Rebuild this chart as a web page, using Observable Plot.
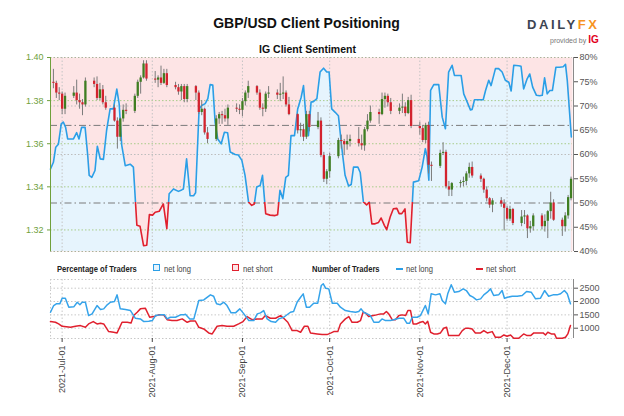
<!DOCTYPE html>
<html><head><meta charset="utf-8">
<script src="https://cdn.jsdelivr.net/npm/d3@7"></script>
<script src="https://cdn.jsdelivr.net/npm/@observablehq/plot@0.6"></script>
<style>
body{margin:0;background:#fff;}
#wrap{position:relative;width:624px;height:416px;overflow:hidden;background:#fff;font-family:"Liberation Sans",Arial,sans-serif;}
.abs{position:absolute;white-space:nowrap;line-height:1;}
.narrow{font-family:"Liberation Sans",Arial,sans-serif;transform:scaleX(0.8);transform-origin:0 50%;}
</style></head><body>
<div id="wrap">
  <svg width="0" height="0" style="position:absolute"><defs>
    <linearGradient id="sentGrad" gradientUnits="userSpaceOnUse" x1="0" x2="0" y1="0" y2="256">
      <stop id="s1" offset="0.79" stop-color="#2b9ee6"></stop>
      <stop id="s2" offset="0.79" stop-color="#e0202e"></stop>
    </linearGradient></defs></svg>
  <div id="main" class="abs" style="left:0;top:0"></div>
  <div id="bottom" class="abs" style="left:0;top:270px"></div>
  <div class="abs" style="left:0;width:613px;top:16px;text-align:center;font-weight:bold;font-size:14px;color:#111">GBP/USD Client Positioning</div>
  <div class="abs" style="left:0;width:615px;top:44px;text-align:center;font-weight:bold;font-size:10.5px;color:#111">IG Client Sentiment</div>
  <div class="abs" style="left:527px;top:18px;font-weight:bold;font-size:13px;letter-spacing:2.6px;color:#3d4552">DAILY<span style="color:#f7931e">FX</span></div>
  <div class="abs" style="left:550px;top:35px;font-size:7px;color:#777">provided by <span style="color:#e2001a;font-weight:bold;font-size:10px">IG</span></div>
  <div class="abs narrow" style="left:57px;top:264px;font-weight:bold;font-size:9.5px;color:#222">Percentage of Traders</div>
  <div class="abs" style="left:153px;top:264px;width:5px;height:5px;border:1.6px solid #2b9ee6;background:#e6f4fd"></div>
  <div class="abs narrow" style="left:164px;top:264px;font-size:9.5px;color:#444">net long</div>
  <div class="abs" style="left:232px;top:264px;width:5px;height:5px;border:1.6px solid #e0202e;background:#fde4e5"></div>
  <div class="abs narrow" style="left:243px;top:264px;font-size:9.5px;color:#444">net short</div>
  <div class="abs narrow" style="left:312px;top:264px;font-weight:bold;font-size:9.5px;color:#222">Number of Traders</div>
  <div class="abs" style="left:396px;top:268px;width:7px;height:2px;background:#2b9ee6"></div>
  <div class="abs narrow" style="left:406px;top:264px;font-size:9.5px;color:#444">net long</div>
  <div class="abs" style="left:476px;top:268px;width:7px;height:2px;background:#e0202e"></div>
  <div class="abs narrow" style="left:486px;top:264px;font-size:9.5px;color:#444">net short</div>
</div>
<script>
// ---- candles (weekdays, 2021) ----
const candleDays = [
 "06-28","06-29","06-30",
 "07-01","07-02","07-05","07-06","07-07","07-08","07-09","07-12","07-13","07-14","07-15","07-16","07-19","07-20","07-21","07-22","07-23","07-26","07-27","07-28","07-29","07-30",
 "08-02","08-03","08-04","08-05","08-06","08-09","08-10","08-11","08-12","08-13","08-16","08-17","08-18","08-19","08-20","08-23","08-24","08-25","08-26","08-27","08-30","08-31",
 "09-01","09-02","09-03","09-06","09-07","09-08","09-09","09-10","09-13","09-14","09-15","09-16","09-17","09-20","09-21","09-22","09-23","09-24","09-27","09-28","09-29","09-30",
 "10-01","10-04","10-05","10-06","10-07","10-08","10-11","10-12","10-13","10-14","10-15","10-18","10-19","10-20","10-21","10-22","10-25","10-26","10-27","10-28","10-29",
 "11-01","11-02","11-03","11-04","11-05","11-08","11-09","11-10","11-11","11-12","11-15","11-16","11-17","11-18","11-19","11-22","11-23","11-24","11-25","11-26","11-29","11-30",
 "12-01","12-02","12-03","12-06","12-07","12-08","12-09","12-10","12-13","12-14","12-15","12-16","12-17","12-20","12-21","12-22","12-23"];
const openP = [
 1.3885,1.3880,1.3835,
 1.3830,1.3760,1.3820,1.3835,1.3800,1.3790,1.3780,1.3890,1.3875,1.3810,1.3850,1.3790,1.3765,1.3705,1.3630,1.3715,1.3755,1.3750,1.3820,1.3885,1.3905,1.3970,
 1.3900,1.3895,1.3905,1.3880,1.3925,1.3870,1.3860,1.3840,1.3865,1.3805,1.3865,1.3835,1.3745,1.3760,1.3650,1.3620,1.3715,1.3735,1.3730,1.3715,1.3765,1.3760,
 1.3755,1.3795,1.3835,1.3865,1.3835,1.3765,1.3760,1.3830,1.3835,1.3825,1.3830,1.3835,1.3780,1.3735,1.3660,1.3665,1.3630,1.3735,1.3675,1.3705,1.3545,1.3435,
 1.3470,1.3540,1.3615,1.3610,1.3595,1.3610,1.3620,1.3600,1.3590,1.3665,1.3705,1.3745,1.3735,1.3805,1.3820,1.3790,1.3750,1.3765,1.3770,1.3740,1.3800,
 1.3680,1.3670,1.3615,1.3685,1.3500,1.3495,1.3555,1.3560,1.3400,1.3385,1.3415,1.3420,1.3425,1.3460,1.3490,1.3450,1.3435,1.3385,1.3345,1.3315,1.3335,1.3320,
 1.3300,1.3250,1.3295,1.3230,1.3260,1.3265,1.3205,1.3215,1.3265,1.3215,1.3240,1.3285,1.3325,1.3245,1.3215,1.3265,1.3345];
const highP = [
 1.3945,1.3890,1.3860,
 1.3840,1.3835,1.3865,1.3895,1.3830,1.3805,1.3905,1.3905,1.3910,1.3880,1.3870,1.3820,1.3780,1.3720,1.3720,1.3780,1.3785,1.3830,1.3895,1.3915,1.3985,1.3985,
 1.3935,1.3915,1.3960,1.3945,1.3945,1.3885,1.3875,1.3875,1.3875,1.3875,1.3870,1.3845,1.3800,1.3765,1.3675,1.3730,1.3745,1.3750,1.3760,1.3780,1.3785,1.3780,
 1.3810,1.3845,1.3890,1.3870,1.3850,1.3785,1.3840,1.3865,1.3850,1.3880,1.3910,1.3845,1.3815,1.3740,1.3695,1.3690,1.3750,1.3750,1.3745,1.3720,1.3560,1.3480,
 1.3555,1.3625,1.3640,1.3620,1.3640,1.3640,1.3675,1.3640,1.3675,1.3735,1.3775,1.3760,1.3835,1.3835,1.3830,1.3810,1.3785,1.3830,1.3790,1.3815,1.3825,
 1.3700,1.3685,1.3695,1.3700,1.3515,1.3570,1.3605,1.3570,1.3425,1.3420,1.3430,1.3445,1.3470,1.3510,1.3515,1.3460,1.3440,1.3400,1.3350,1.3345,1.3350,1.3340,
 1.3310,1.3310,1.3300,1.3290,1.3290,1.3270,1.3240,1.3275,1.3275,1.3270,1.3290,1.3375,1.3340,1.3255,1.3280,1.3360,1.3445];
const lowP = [
 1.3855,1.3810,1.3800,
 1.3735,1.3735,1.3810,1.3780,1.3760,1.3730,1.3770,1.3860,1.3800,1.3800,1.3780,1.3755,1.3700,1.3575,1.3610,1.3700,1.3735,1.3740,1.3810,1.3830,1.3900,1.3890,
 1.3880,1.3860,1.3870,1.3875,1.3860,1.3850,1.3825,1.3800,1.3790,1.3790,1.3800,1.3735,1.3730,1.3640,1.3600,1.3610,1.3690,1.3690,1.3700,1.3685,1.3745,1.3735,
 1.3725,1.3775,1.3810,1.3825,1.3755,1.3725,1.3745,1.3810,1.3805,1.3795,1.3805,1.3770,1.3730,1.3645,1.3630,1.3610,1.3620,1.3655,1.3665,1.3535,1.3420,1.3410,
 1.3440,1.3530,1.3575,1.3545,1.3570,1.3585,1.3585,1.3570,1.3565,1.3655,1.3695,1.3690,1.3730,1.3765,1.3770,1.3735,1.3735,1.3740,1.3725,1.3735,1.3670,
 1.3640,1.3605,1.3600,1.3460,1.3425,1.3485,1.3545,1.3390,1.3355,1.3355,1.3395,1.3400,1.3405,1.3440,1.3440,1.3420,1.3370,1.3330,1.3300,1.3280,1.3305,1.3195,
 1.3240,1.3240,1.3220,1.3215,1.3225,1.3160,1.3185,1.3195,1.3200,1.3190,1.3160,1.3250,1.3240,1.3170,1.3190,1.3250,1.3335];
const closeP = [
 1.3880,1.3835,1.3830,
 1.3760,1.3820,1.3835,1.3800,1.3790,1.3780,1.3890,1.3875,1.3810,1.3850,1.3790,1.3765,1.3705,1.3630,1.3715,1.3755,1.3750,1.3820,1.3885,1.3905,1.3970,1.3900,
 1.3895,1.3905,1.3880,1.3925,1.3870,1.3860,1.3840,1.3865,1.3805,1.3865,1.3835,1.3745,1.3760,1.3650,1.3620,1.3715,1.3735,1.3730,1.3715,1.3765,1.3760,1.3755,
 1.3795,1.3835,1.3865,1.3835,1.3765,1.3760,1.3830,1.3835,1.3825,1.3830,1.3835,1.3780,1.3735,1.3660,1.3665,1.3630,1.3735,1.3675,1.3705,1.3545,1.3435,1.3470,
 1.3540,1.3615,1.3610,1.3595,1.3610,1.3620,1.3600,1.3590,1.3665,1.3705,1.3745,1.3735,1.3805,1.3820,1.3790,1.3750,1.3765,1.3770,1.3740,1.3800,1.3680,
 1.3670,1.3615,1.3685,1.3500,1.3495,1.3555,1.3560,1.3400,1.3385,1.3415,1.3420,1.3425,1.3460,1.3490,1.3450,1.3435,1.3385,1.3345,1.3315,1.3335,1.3320,1.3300,
 1.3250,1.3295,1.3230,1.3260,1.3265,1.3205,1.3215,1.3265,1.3215,1.3240,1.3285,1.3325,1.3245,1.3215,1.3265,1.3350,1.3435];

// ---- % of traders net long (days since 2021-07-01) ----
const sentDay = [-4.0,-3.0,-2.2,-1.3,-0.3,0.4,1.2,1.9,3.9,5.0,5.8,6.7,7.9,8.8,9.3,10.2,11.3,12.1,13.1,14.2,15.3,16.5,17.6,18.8,19.6,20.5,21.7,23.4,24.5,25.7,26.8,28.0,29.1,30.0,31.1,32.0,33.4,34.8,36.0,36.8,38.3,40.0,41.1,41.7,42.8,44.0,45.2,45.9,47.1,48.0,49.2,50.1,50.9,51.8,52.6,53.5,54.7,55.8,56.9,57.8,59.5,60.6,61.8,62.9,64.1,65.2,66.1,66.9,68.1,68.9,70.0,71.5,73.2,74.1,74.9,75.9,76.9,77.8,78.7,79.9,81.0,82.2,83.0,83.8,84.7,85.6,86.4,87.6,88.7,89.9,91.0,91.8,92.7,93.9,95.0,96.2,97.3,98.5,99.4,100.2,101.7,102.5,103.6,104.7,105.6,106.5,107.6,108.8,109.7,110.8,111.6,112.8,113.9,115.1,115.9,116.8,117.9,118.7,119.7,120.8,122.6,123.8,124.9,125.5,126.1,126.7,127.8,129.5,130.7,131.8,132.9,134.1,134.9,136.4,137.2,138.1,139.3,140.4,141.0,141.8,143.3,144.8,145.6,146.7,147.5,149.0,150.1,151.3,152.4,153.6,154.4,155.3,157.0,157.8,158.7,159.9,160.8,161.8,163.1,164.2,165.1,165.9,166.8,167.7,168.6,169.8,171.1,172.3,173.1,173.7,175.1];
const sentPct = [57.0,58.4,61.5,62.1,66.3,66.7,65.6,63.2,63.2,64.5,63.2,65.6,65.6,59.8,55.7,55.3,56.7,61.7,59.1,59.0,65.0,69.4,69.4,73.5,70.5,61.9,57.7,58.0,57.4,45.4,45.2,41.2,41.3,47.6,47.5,48.1,48.3,49.8,44.7,51.9,52.9,52.4,52.7,52.9,59.1,51.5,51.5,52.1,69.4,70.1,70.5,71.5,74.4,74.3,66.7,63.2,62.2,64.6,64.5,60.5,60.0,59.9,58.8,55.7,50.2,49.5,49.8,53.3,53.6,55.7,47.8,47.5,47.4,47.6,52.6,50.9,55.3,55.7,63.9,63.9,69.4,71.8,74.2,68.0,63.9,70.8,70.9,71.5,77.0,77.8,77.0,77.0,69.4,68.7,68.0,61.2,55.7,53.5,53.8,57.4,57.4,56.3,50.2,49.6,50.2,45.7,45.7,46.0,46.9,45.4,44.5,47.1,48.8,48.9,47.8,47.8,48.8,41.9,41.8,54.3,54.6,57.4,61.2,59.5,54.7,73.2,74.4,74.4,67.7,65.3,77.0,78.4,76.3,76.3,76.3,72.5,70.8,69.2,69.3,71.3,71.3,71.3,73.2,75.3,74.2,77.7,77.7,77.0,75.3,74.9,73.1,78.4,78.3,78.2,73.5,75.6,76.6,73.9,72.2,72.1,72.2,75.8,72.5,73.2,73.2,78.0,78.0,78.1,78.6,75.3,63.6];

// ---- number of traders ----
const longDay = [-4.0,-2.9,-2.0,-0.8,0,1.1,2.3,4.0,5.2,6.1,6.9,8.0,9.1,10.3,12.0,13.2,14.3,15.5,16.6,18.0,18.9,20.0,21.8,23.5,25.2,26.9,28.1,29.8,31.0,32.1,33.8,35.2,36.1,37.2,39.0,40.7,41.8,42.4,43.9,45.3,47.0,48.7,51.0,52.1,53.1,54.4,55.6,56.7,58.1,59.6,61.1,62.5,64.2,65.9,67.1,68.2,69.3,70.5,71.9,73.4,74.5,76.2,78.5,79.6,80.8,82.0,82.9,84.0,85.1,86.5,87.9,89.1,89.8,90.6,91.7,92.9,94.6,95.7,97.4,99.1,100.9,102.0,102.8,103.7,104.9,106.0,107.2,108.9,110.0,111.2,112.9,114.0,115.8,117.5,118.6,119.5,120.4,122.1,123.2,124.9,125.9,126.9,128.4,129.9,130.7,131.8,132.6,133.8,134.9,136.4,137.9,139.0,140.2,141.3,142.5,143.9,145.0,146.2,147.3,148.4,150.1,151.3,152.1,153.2,154.8,156.5,158.2,159.7,161.3,162.8,164.5,165.9,167.3,168.8,170.2,171.4,172.7,173.7,174.8];
const longNum = [1598,1850,1913,1913,2124,2124,1786,1800,1974,1880,1974,1974,1474,1537,1850,1700,1725,1876,1974,2000,2250,1725,1700,1662,1372,1349,1248,1260,1286,1474,1500,1500,1349,1410,1410,1500,1500,1525,1349,1349,2037,2060,2250,2200,1913,1880,1974,1850,1575,1575,1725,1537,1286,1286,1537,1575,1662,1349,1248,1223,1349,1410,1598,1625,1974,2162,2287,1786,1786,1937,1937,2600,2665,2500,2475,1937,1937,1786,1662,1625,1598,1625,1725,1598,1537,1474,1223,1223,1349,1286,1286,1320,1372,1372,1184,1184,1410,1410,1474,1850,1537,2290,2250,2290,2037,1913,2290,2628,2350,2375,2475,2412,2225,2162,2062,2100,2250,2350,2475,2225,2250,2412,2125,2162,2200,2200,2225,2375,2350,2100,2125,2412,2200,2250,2250,2290,2412,2290,1913];
const shortDay = [-4.0,-2.3,-1.2,0,2.9,4.6,6.3,8.0,9.1,10.7,12.0,13.2,14.3,16.0,17.7,18.9,20.6,22.4,23.7,24.6,25.8,26.9,28.6,30.1,31.5,33.2,34.9,36.1,37.8,39.5,41.3,43.0,44.1,45.8,47.0,48.7,50.4,51.6,53.3,55.0,56.7,59.0,60.7,62.2,63.6,65.3,67.1,68.8,69.9,71.6,73.4,75.1,76.2,77.6,79.1,80.8,82.0,83.3,84.5,85.4,87.7,89.4,91.1,92.5,93.4,94.8,95.7,97.4,98.6,99.7,101.5,102.6,103.5,104.3,105.4,107.0,108.1,109.5,110.6,111.5,112.3,113.5,114.6,115.8,116.9,118.1,118.9,119.8,120.7,121.8,123.2,124.1,124.9,125.7,126.7,127.8,129.0,130.1,131.2,132.2,132.9,134.7,136.4,137.6,138.7,139.8,141.0,142.1,143.9,145.0,146.2,147.9,149.0,150.7,151.9,153.0,154.2,155.3,157.0,158.7,159.9,161.1,162.2,163.9,165.4,166.2,167.0,168.2,169.3,170.0,172.0,173.1,173.9,174.8];
const shortNum = [1248,1223,1160,1073,1035,1073,1098,1035,1160,1248,1160,1185,1160,872,848,823,1223,1223,1198,1474,1598,1725,1750,1410,1435,1500,1500,1320,1286,1286,1349,1223,1270,1270,1035,973,823,785,1073,1098,1073,1073,1160,1248,1435,1320,1349,1349,1474,1372,1372,1474,1372,1223,910,910,848,1073,1073,823,785,760,760,823,872,872,1160,1349,1435,1223,1223,1286,1598,1575,1435,1474,1500,1537,1537,1625,1537,1320,1320,1474,1500,1474,1662,1662,1160,1160,1223,1248,1160,1260,848,785,785,823,998,1035,722,722,722,910,998,998,973,823,823,910,823,872,660,660,747,697,747,622,622,785,722,722,823,823,823,747,848,785,785,622,622,660,785,1098];

const pctTicks = [40,45,50,55,60,65,70,75,80];
const priceTicks = [1.32,1.34,1.36,1.38,1.40];
const countTicks = [1000,1500,2000,2500];
const monthStarts = ["2021-07-01","2021-08-01","2021-09-01","2021-10-01","2021-11-01","2021-12-01"].map(s => new Date(s));

// ---- build ----
const FONT = '"Liberation Sans",Arial,sans-serif';
const base = Date.UTC(2021, 6, 1);
const dayDate = d => new Date(base + d * 864e5);
const xDomain = [new Date(Date.UTC(2021,5,27)), new Date(Date.UTC(2021,11,23,12))];
const PMIN = 1.31, PMAX = 1.40;
const pctToPrice = p => PMIN + (p - 40) / 40 * (PMAX - PMIN);
const priceToPct = v => Math.round((v - PMIN) / (PMAX - PMIN) * 40 + 40);

const candles = candleDays.map((d, i) => ({date: new Date("2021-" + d), open: openP[i], high: highP[i], low: lowP[i], close: closeP[i]}));
const sent = sentDay.map((d, i) => ({date: dayDate(d), y: pctToPrice(sentPct[i])}));
const longs = longDay.map((d, i) => ({date: dayDate(d), v: longNum[i]}));
const shorts = shortDay.map((d, i) => ({date: dayDate(d), v: shortNum[i]}));

const H1 = 256, MT = 57, MB = 5;
const y50 = MT + (PMAX - pctToPrice(50)) / (PMAX - PMIN) * (H1 - MT - MB) - 0.5;
document.getElementById("s1").setAttribute("offset", y50 / H1);
document.getElementById("s2").setAttribute("offset", y50 / H1);

const GREEN = "#6fa03c", AXG = "#555", dot = "1.5,2", dashdot = "7,3,1.5,3";

const main = Plot.plot({
  width: 624, height: H1, marginTop: MT, marginBottom: MB, marginLeft: 50, marginRight: 52,
  x: {type: "utc", domain: xDomain, axis: null},
  y: {domain: [PMIN, PMAX]},
  style: {background: "transparent", fontFamily: FONT, fontSize: "9px", overflow: "visible"},
  marks: [
    Plot.frame({fill: "#fde4e5", stroke: null}),
    Plot.areaY(sent, {x: "date", y1: PMIN, y2: "y", fill: "#e6f4fd"}),
    Plot.ruleY(priceTicks.slice(0, 4), {stroke: "#a8cc8a", strokeDasharray: dot}),
    Plot.ruleY([60, 70].map(pctToPrice), {stroke: "#bdbdbd", strokeDasharray: dot}),
    Plot.ruleY([PMIN, PMAX], {stroke: "#aab39a", strokeDasharray: dot}),
    Plot.ruleX(monthStarts, {stroke: "#c4c4c4", strokeDasharray: dot}),
    Plot.ruleY([pctToPrice(50), pctToPrice(66)], {stroke: "#7a7a7a", strokeDasharray: dashdot}),
    Plot.line(sent, {x: "date", y: "y", stroke: "url(#sentGrad)", strokeWidth: 1.6}),
    Plot.ruleX(candles, {x: "date", y1: "low", y2: "high", stroke: "#7b7b7b", strokeWidth: 1}),
    Plot.ruleX(candles.filter(d => d.close >= d.open), {x: "date", y1: "open", y2: "close", stroke: "#3f7e22", strokeWidth: 2.3}),
    Plot.ruleX(candles.filter(d => d.close < d.open), {x: "date", y1: "open", y2: "close", stroke: "#d3232e", strokeWidth: 2.3}),
    Plot.ruleX([xDomain[0]], {stroke: GREEN, strokeWidth: 1}),
    Plot.ruleX([xDomain[1]], {stroke: "#8a8a8a", dx: 1}),
    Plot.axisY({anchor: "left", ticks: priceTicks, tickFormat: d => d.toFixed(2), tickSize: 3, tickPadding: 4, color: GREEN, label: null}),
    Plot.axisY({anchor: "right", ticks: pctTicks.map(pctToPrice), tickFormat: v => priceToPct(v) + "%", tickSize: 4, tickPadding: 2, color: AXG, dx: 1, label: null})
  ]
});
document.getElementById("main").appendChild(main);

const bottom = Plot.plot({
  width: 624, height: 146, marginTop: 9, marginBottom: 78, marginLeft: 50, marginRight: 52,
  x: {type: "utc", domain: xDomain},
  y: {domain: [614, 2826]},
  style: {background: "transparent", fontFamily: FONT, fontSize: "9px", overflow: "visible"},
  marks: [
    Plot.ruleY(countTicks, {stroke: "#c8c8c8", strokeDasharray: dot}),
    Plot.ruleY([614, 2826], {stroke: "#c8c8c8", strokeDasharray: dot}),
    Plot.ruleX(monthStarts, {stroke: "#c8c8c8", strokeDasharray: dot}),
    Plot.ruleX([xDomain[0]], {stroke: "#c8c8c8", strokeDasharray: dot}),
    Plot.line(shorts, {x: "date", y: "v", stroke: "#e0202e", strokeWidth: 1.5}),
    Plot.line(longs, {x: "date", y: "v", stroke: "#35a3ea", strokeWidth: 1.5}),
    Plot.ruleX([xDomain[1]], {stroke: "#8a8a8a", dx: 1}),
    Plot.axisY({anchor: "right", ticks: countTicks, tickFormat: d => String(d), tickSize: 4, tickPadding: 2, color: AXG, dx: 1, label: null}),
    Plot.axisX({ticks: monthStarts, tickFormat: d3.utcFormat("%Y-%b-%d"), tickRotate: -90, tickSize: 4, tickPadding: 3, color: "#444", label: null})
  ]
});
document.getElementById("bottom").appendChild(bottom);
</script>
</body></html>
